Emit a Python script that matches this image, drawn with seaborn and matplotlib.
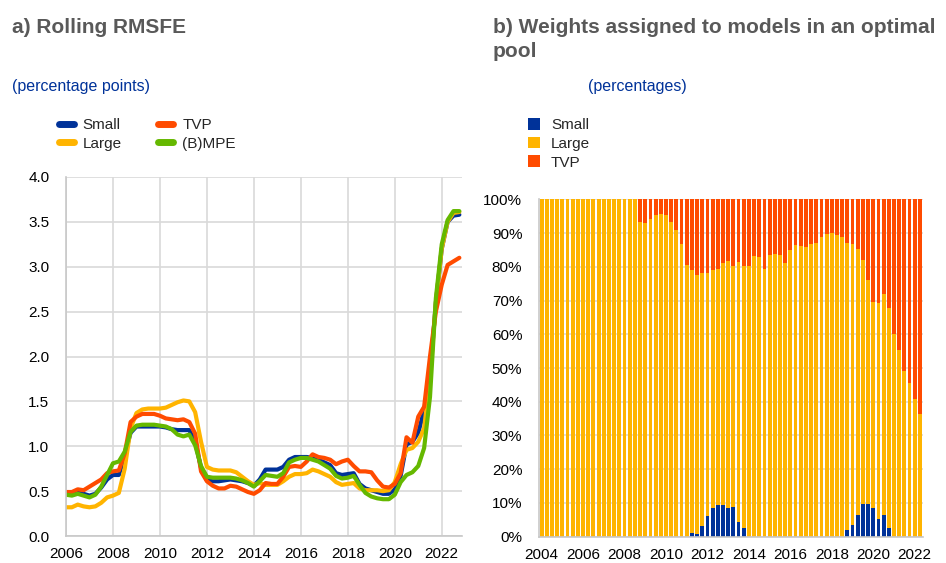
import matplotlib.pyplot as plt
import seaborn as sns
import pandas as pd
from matplotlib.lines import Line2D
from matplotlib.patches import Patch

# a) rolling RMSFE, quarterly 2006Q1-2022Q4 (percentage points)
rmsfe_small = [0.48, 0.47, 0.49, 0.47, 0.45, 0.47, 0.54, 0.63, 0.68, 0.68,
               0.90, 1.15, 1.22, 1.22, 1.22, 1.22, 1.22, 1.21, 1.19, 1.18,
               1.18, 1.18, 1.05, 0.76, 0.62, 0.61, 0.61, 0.62, 0.63, 0.62,
               0.61, 0.59, 0.56, 0.63, 0.74, 0.74, 0.74, 0.77, 0.85, 0.88,
               0.88, 0.88, 0.87, 0.85, 0.82, 0.79, 0.70, 0.68, 0.69, 0.70,
               0.58, 0.53, 0.51, 0.49, 0.47, 0.47, 0.52, 0.67, 1.02, 1.05,
               1.15, 1.40, 1.80, 2.60, 3.20, 3.50, 3.57, 3.58]
rmsfe_large = [0.32, 0.32, 0.35, 0.33, 0.32, 0.33, 0.37, 0.43, 0.45, 0.48,
               0.75, 1.20, 1.37, 1.41, 1.42, 1.42, 1.42, 1.43, 1.46, 1.49,
               1.51, 1.50, 1.38, 1.05, 0.77, 0.74, 0.73, 0.73, 0.73, 0.71,
               0.66, 0.61, 0.57, 0.59, 0.57, 0.57, 0.57, 0.61, 0.66, 0.69,
               0.69, 0.70, 0.74, 0.72, 0.69, 0.66, 0.60, 0.57, 0.58, 0.59,
               0.53, 0.51, 0.51, 0.51, 0.50, 0.51, 0.60, 0.80, 0.96, 0.98,
               1.05, 1.20, 1.75, 2.60, 3.20, 3.50, 3.60, 3.61]
rmsfe_tvp = [0.49, 0.49, 0.52, 0.51, 0.55, 0.59, 0.63, 0.70, 0.72, 0.73,
             0.92, 1.27, 1.33, 1.36, 1.36, 1.36, 1.34, 1.31, 1.30, 1.29,
             1.30, 1.27, 1.14, 0.72, 0.61, 0.56, 0.53, 0.53, 0.56, 0.55,
             0.52, 0.49, 0.47, 0.51, 0.59, 0.58, 0.58, 0.66, 0.77, 0.78,
             0.77, 0.83, 0.91, 0.88, 0.87, 0.85, 0.80, 0.83, 0.85, 0.78,
             0.72, 0.72, 0.71, 0.62, 0.55, 0.54, 0.58, 0.70, 1.10, 1.04,
             1.33, 1.44, 2.00, 2.50, 2.80, 3.02, 3.06, 3.10]
rmsfe_bmpe = [0.46, 0.45, 0.47, 0.45, 0.43, 0.46, 0.55, 0.68, 0.81, 0.83,
              0.94, 1.16, 1.23, 1.24, 1.24, 1.24, 1.23, 1.22, 1.19, 1.13,
              1.11, 1.13, 1.01, 0.78, 0.66, 0.65, 0.65, 0.65, 0.65, 0.64,
              0.62, 0.59, 0.55, 0.61, 0.68, 0.67, 0.66, 0.70, 0.82, 0.85,
              0.87, 0.87, 0.85, 0.83, 0.79, 0.75, 0.67, 0.64, 0.65, 0.67,
              0.57, 0.48, 0.44, 0.42, 0.41, 0.41, 0.46, 0.60, 0.68, 0.71,
              0.78, 0.98, 1.55, 2.65, 3.25, 3.52, 3.62, 3.62]

# b) optimal pool weights, quarterly 2004Q1-2022Q2 (percentages)
w_small = [0] * 29 + [1.2, 0.8, 3.2, 6.1, 8.4, 9.3, 9.4, 8.5, 8.7, 4.3, 2.7] \
    + [0] * 19 + [1.9, 3.5, 6.5, 9.8, 9.8, 8.6, 5.3, 6.5, 2.7] + [0] * 6
w_large = [100] * 19 + [93.3, 93.0, 94.3, 95.2, 95.6, 95.3, 93.4, 90.9, 86.7, 80.5,
                        77.8, 76.9, 74.9, 72.0, 70.6, 70.0, 71.8, 73.1, 71.4, 77.2,
                        77.5, 80.2, 83.1, 82.8, 79.3, 83.5, 83.8, 83.5, 81.0, 85.0,
                        86.6, 86.3, 86.0, 86.7, 87.1, 88.9, 89.7, 90.0, 89.4, 88.7,
                        85.0, 83.2, 78.7, 72.1, 66.4, 60.9, 64.1, 65.4, 65.0, 60.0,
                        55.2, 49.0, 45.5, 40.7, 36.5]
w_tvp = [0] * 19 + [6.7, 7.0, 5.7, 4.8, 4.4, 4.7, 6.6, 9.1, 13.3, 19.5,
                    21.0, 22.3, 21.9, 21.9, 21.0, 20.7, 18.8, 18.4, 19.9, 18.5,
                    19.8, 19.8, 16.9, 17.2, 20.7, 16.5, 16.2, 16.5, 19.0, 15.0,
                    13.4, 13.7, 14.0, 13.3, 12.9, 11.1, 10.3, 10.0, 10.6, 11.3,
                    13.1, 13.3, 14.8, 18.1, 23.8, 30.5, 30.6, 28.1, 32.3, 40.0,
                    44.8, 51.0, 54.5, 59.3, 63.5]

models = ['Small', 'Large', 'TVP', '(B)MPE']
colors = {'Small': '#003299', 'Large': '#ffb400', 'TVP': '#ff4b00', '(B)MPE': '#65b800'}

sns.set_theme(style='white')
plt.rcParams['font.family'] = ['Liberation Sans', 'DejaVu Sans']
grid_c = '#d9d9d9'
blue_txt = '#003299'
title_c = '#595959'

quarters_a = pd.period_range('2006Q1', '2022Q4', freq='Q')
t = quarters_a.year + (quarters_a.quarter - 1) / 4
df_a = pd.concat([
    pd.DataFrame({'t': t, 'value': vals, 'model': m})
    for m, vals in zip(models, [rmsfe_small, rmsfe_large, rmsfe_tvp, rmsfe_bmpe])
])

quarters_b = pd.period_range('2004Q1', '2022Q2', freq='Q')
qlab = [str(q) for q in quarters_b]

fig = plt.figure(figsize=(9.46, 5.63), dpi=100)
ax1 = fig.add_axes([66 / 946, 27 / 563, 395.7 / 946, 359 / 563])
ax2 = fig.add_axes([539 / 946, 26.3 / 563, 383.5 / 946, 337.4 / 563])

# --- panel a
sns.lineplot(data=df_a, x='t', y='value', hue='model', hue_order=models,
             palette=colors, linewidth=3, legend=False, ax=ax1)
ax1.set_xlim(2006, 2022.85)
ax1.set_ylim(0, 4)
ax1.set_xticks(range(2006, 2023, 2))
ax1.set_yticks([i * 0.5 for i in range(9)])
ax1.set_yticklabels([f'{i * 0.5:.1f}' for i in range(9)])
ax1.grid(True, color=grid_c, linewidth=1.2)
ax1.set_axisbelow(True)
ax1.set_xlabel('')
ax1.set_ylabel('')

# --- panel b: stacked bars drawn as overlaid cumulative totals
top_all = [s + l + v for s, l, v in zip(w_small, w_large, w_tvp)]
top_large = [s + l for s, l in zip(w_small, w_large)]
for vals, key in [(top_all, 'TVP'), (top_large, 'Large'), (w_small, 'Small')]:
    sns.barplot(x=qlab, y=vals, color=colors[key], saturation=1, width=0.74,
                errorbar=None, linewidth=0, edgecolor='none', ax=ax2)
ax2.set_ylim(0, 100)
ax2.set_xlim(-0.5, len(qlab) - 0.5)
ax2.set_yticks(range(0, 101, 10))
ax2.set_yticklabels([f'{v}%' for v in range(0, 101, 10)])
xt = list(range(0, len(qlab), 8))
ax2.set_xticks(xt)
ax2.set_xticklabels([str(quarters_b[i].year) for i in xt])
ax2.grid(True, axis='y', color=grid_c, linewidth=1.2)
ax2.set_axisbelow(True)
ax2.set_xlabel('')
ax2.set_ylabel('')

for ax in (ax1, ax2):
    for side in ('top', 'right'):
        ax.spines[side].set_visible(False)
    for side in ('left', 'bottom'):
        ax.spines[side].set_color('#c8c8c8')
        ax.spines[side].set_linewidth(1.2)
    ax.tick_params(length=0, labelsize=11, colors='black')
    ax.tick_params(axis='x', pad=8)
    ax.tick_params(axis='y', pad=12)

# titles and units
fig.text(12 / 946, 1 - 33 / 563, 'a) Rolling RMSFE', fontsize=15, fontweight='bold',
         color=title_c, va='baseline')
fig.text(493 / 946, 1 - 33 / 563, 'b) Weights assigned to models in an optimal',
         fontsize=15, fontweight='bold', color=title_c, va='baseline')
fig.text(493 / 946, 1 - 57 / 563, 'pool', fontsize=15, fontweight='bold',
         color=title_c, va='baseline')
fig.text(12 / 946, 1 - 87 / 563, '(percentage points)', fontsize=11.5,
         color=blue_txt, va='center')
fig.text(588 / 946, 1 - 87 / 563, '(percentages)', fontsize=11.5,
         color=blue_txt, va='center')

# legends
h1 = [Line2D([0], [0], color=colors[m], linewidth=5) for m in models]
fig.legend(h1, models, loc='upper left', bbox_to_anchor=(59 / 946, 1 - 118 / 563),
           ncol=2, frameon=False, fontsize=11, handlelength=0.95,
           handletextpad=0.6, columnspacing=2.4, labelspacing=0.3,
           borderpad=0, borderaxespad=0)
bar_models = ['Small', 'Large', 'TVP']
h2 = [Patch(facecolor=colors[m], edgecolor='none') for m in bar_models]
fig.legend(h2, bar_models, loc='upper left', bbox_to_anchor=(528 / 946, 1 - 118 / 563),
           frameon=False, fontsize=11, handlelength=0.8, handleheight=0.8,
           handletextpad=0.7, labelspacing=0.3, borderpad=0, borderaxespad=0)

fig.savefig('out.png', dpi=100)
